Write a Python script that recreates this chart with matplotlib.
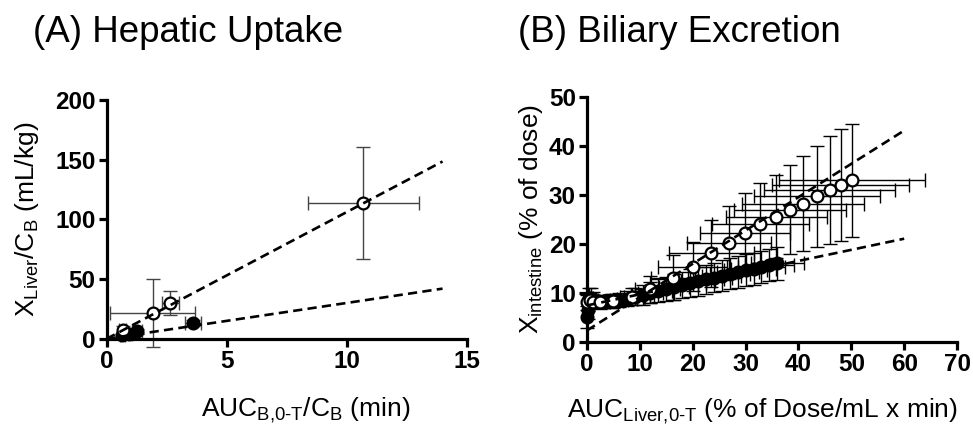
import numpy as np
import matplotlib
matplotlib.use("Agg")
import matplotlib.pyplot as plt

plt.rcParams['font.family'] = ['Liberation Sans', 'DejaVu Sans']
plt.rcParams['mathtext.fontset'] = 'custom'
plt.rcParams['mathtext.rm'] = 'Liberation Sans'
plt.rcParams['mathtext.it'] = 'Liberation Sans'
plt.rcParams['mathtext.default'] = 'regular'

# (A) hepatic uptake
a_open_x = [0.68, 1.92, 2.65, 10.7]
a_open_y = [7.8, 21.7, 30.0, 113.5]
a_open_xerr = [0.15, 1.78, 0.35, 2.3]
a_open_yerr = [3.0, 28.5, 10.0, 47.0]

a_fill_x = [0.65, 0.93, 1.27, 3.59]
a_fill_y = [2.8, 4.2, 6.4, 13.0]
a_fill_xerr = [0.1, 0.15, 0.2, 0.33]
a_fill_yerr = [1.0, 1.5, 2.0, 2.5]

a_open_fit = (10.6, 0.0)   # slope, intercept
a_fill_fit = (3.0, 0.0)
a_fit_xmax = 14

# (B) biliary excretion
b_fill_x = [0.0, 0.1, 0.2, 0.4, 0.7, 1.2, 2.0, 3.0, 4.5, 6.0, 7.5, 9.0, 10.5, 12.0, 13.5,
            15.0, 16.5, 18.0, 19.5, 21.0, 22.5, 24.0, 25.5, 27.0, 28.5, 30.0, 31.5, 33.0, 34.5, 36.0]
b_fill_y = [5.0, 6.5, 8.0, 9.0, 9.0, 8.6, 8.3, 8.2, 8.3, 8.5, 8.8, 9.2, 9.5, 10.0, 10.4,
            10.8, 11.2, 11.6, 12.0, 12.3, 12.7, 13.1, 13.5, 13.9, 14.2, 14.6, 14.9, 15.2, 15.6, 16.0]
b_fill_xerr = [0.1, 0.1, 0.2, 0.3, 0.5, 0.8, 1.0, 1.3, 1.5, 1.7, 1.9, 2.0, 2.2, 2.4, 2.5,
               2.6, 2.8, 3.0, 3.1, 3.3, 3.4, 3.5, 3.7, 3.8, 4.0, 4.1, 4.3, 4.5, 4.7, 5.0]
b_fill_yerr = [2.3, 1.8, 1.7, 2.0, 2.0, 1.5, 1.3, 1.3, 1.4, 1.5, 1.6, 1.8, 2.0, 2.2, 2.3,
               2.5, 2.6, 2.7, 2.8, 2.9, 3.0, 3.0, 3.1, 3.1, 3.2, 3.2, 3.3, 3.3, 3.3, 3.4]

b_open_x = [0.0, 0.5, 1.2, 2.5, 5.0, 8.5, 12.0, 16.3, 20.0, 23.5, 26.9, 29.9, 32.8, 35.8,
            38.4, 40.9, 43.5, 45.9, 48.0, 50.2]
b_open_y = [8.0, 8.5, 8.2, 8.0, 8.3, 9.2, 10.7, 13.1, 15.3, 18.0, 20.2, 22.1, 24.0, 25.5,
            26.9, 28.2, 29.7, 31.0, 32.0, 32.9]
b_open_xerr = [0.2, 0.4, 0.8, 1.2, 1.8, 2.3, 3.0, 4.2, 6.5, 8.0, 8.0, 8.5, 9.2, 9.6,
               10.6, 11.5, 12.0, 12.4, 13.0, 13.8]
b_open_yerr = [1.5, 1.5, 1.4, 1.4, 1.5, 1.8, 2.8, 4.6, 5.0, 6.8, 7.5, 8.2, 8.4, 8.5,
               9.1, 9.7, 10.3, 11.0, 11.5, 11.6]

b_open_fit = (0.68, 2.3)
b_fill_fit = (0.227, 7.4)
b_fit_xmax = 60


def style_axes(ax, xmax, xstep, ymax, ystep):
    ax.set_xlim(0, xmax)
    ax.set_ylim(0, ymax)
    ax.set_xticks(np.arange(0, xmax + 1, xstep))
    ax.set_yticks(np.arange(0, ymax + 1, ystep))
    for s in ['top', 'right']:
        ax.spines[s].set_visible(False)
    for s in ['left', 'bottom']:
        ax.spines[s].set_linewidth(2.3)
    ax.tick_params(direction='out', length=6, width=2.3, labelsize=17.5, pad=2)
    for lab in ax.get_xticklabels() + ax.get_yticklabels():
        lab.set_fontweight('bold')


def draw(ax, x, y, xerr, yerr, filled, ecol, ms=8.5):
    ax.errorbar(x, y, xerr=xerr, yerr=yerr, fmt='none', ecolor=ecol,
                elinewidth=1.0, capsize=5, capthick=1.0, clip_on=False, zorder=2)
    ax.plot(x, y, 'o', ms=ms, mec='black', mew=1.6,
            mfc='black' if filled else 'white', clip_on=False, zorder=3)


def fitline(ax, fit, xmax):
    xx = np.array([0, xmax])
    ax.plot(xx, fit[0] * xx + fit[1], '--', color='black', lw=1.9,
            dashes=(3.5, 2), zorder=4, clip_on=False)


fig = plt.figure(figsize=(9.73, 4.34), dpi=100)
axA = fig.add_axes([0.1095, 0.2193, 0.370, 0.5507])
axB = fig.add_axes([0.6033, 0.2127, 0.3803, 0.5645])

# panel A
draw(axA, a_fill_x, a_fill_y, a_fill_xerr, a_fill_yerr, True, '#444444')
draw(axA, a_open_x, a_open_y, a_open_xerr, a_open_yerr, False, '#444444')
fitline(axA, a_open_fit, a_fit_xmax)
fitline(axA, a_fill_fit, a_fit_xmax)
style_axes(axA, 15, 5, 200, 50)
axA.set_xlabel(r'AUC$_{B{,}0\text{-}T}$/C$_B$ (min)', fontsize=19, labelpad=16)
axA.xaxis.label.set_x(0.553)
axA.set_ylabel(r'X$_{Liver}$/C$_B$ (mL/kg)', fontsize=19, labelpad=10)

# panel B
draw(axB, b_fill_x, b_fill_y, b_fill_xerr, b_fill_yerr, True, 'black')
draw(axB, b_open_x, b_open_y, b_open_xerr, b_open_yerr, False, 'black')
fitline(axB, b_open_fit, b_fit_xmax)
fitline(axB, b_fill_fit, b_fit_xmax)
style_axes(axB, 70, 10, 50, 10)
axB.set_xlabel(r'AUC$_{Liver{,}0\text{-}T}$ (% of Dose/mL x min)', fontsize=19, labelpad=15)
axB.xaxis.label.set_x(0.475)
axB.set_ylabel(r'X$_{intestine}$ (% of dose)', fontsize=19, labelpad=3)

fig.text(0.034, 0.903, '(A) Hepatic Uptake', fontsize=26.5, va='baseline')
fig.text(0.532, 0.903, '(B) Biliary Excretion', fontsize=26.5, va='baseline')

fig.savefig('out.png', dpi=100)
